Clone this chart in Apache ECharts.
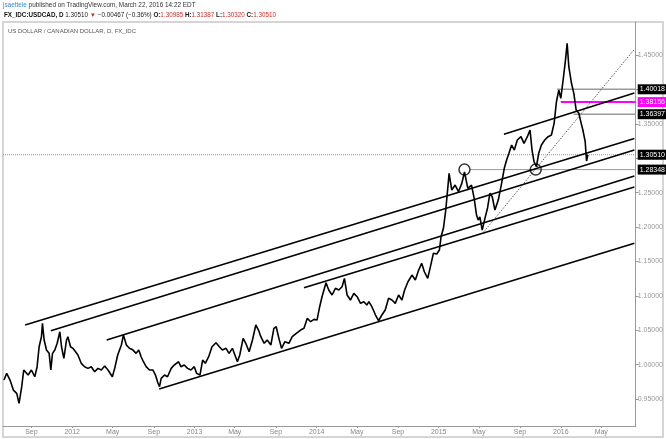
<!DOCTYPE html>
<html>
<head>
<meta charset="utf-8">
<script src="https://cdn.jsdelivr.net/npm/echarts@6/dist/echarts.min.js"></script>
<style>
html,body{margin:0;padding:0;background:#fff;}
#c{width:666px;height:439px;}
</style>
</head>
<body>
<div id="c"></div>
<script>
// ---------- DATA ----------
const priceDates = [
"2011-06-11","2011-06-19","2011-06-29","2011-07-09","2011-07-19","2011-07-26","2011-08-03","2011-08-09","2011-08-22","2011-09-01",
"2011-09-11","2011-09-18","2011-09-24","2011-10-01","2011-10-04","2011-10-09","2011-10-16","2011-10-24","2011-10-29","2011-11-03",
"2011-11-10","2011-11-17","2011-11-25","2011-11-30","2011-12-07","2011-12-15","2011-12-19","2011-12-27","2012-01-03","2012-01-11",
"2012-01-18","2012-01-28","2012-02-07","2012-02-17","2012-02-27","2012-03-08","2012-03-18","2012-03-28","2012-04-07","2012-04-17",
"2012-04-30","2012-05-07","2012-05-16","2012-05-27","2012-06-02","2012-06-11","2012-06-20","2012-06-30","2012-07-10","2012-07-18",
"2012-07-25","2012-08-01","2012-08-09","2012-08-19","2012-08-29","2012-09-06","2012-09-13","2012-09-18","2012-09-23","2012-10-03",
"2012-10-12","2012-10-23","2012-11-01","2012-11-14","2012-11-21","2012-12-01","2012-12-11","2012-12-21","2012-12-31","2013-01-07",
"2013-01-17","2013-01-25","2013-02-02","2013-02-12","2013-02-22","2013-03-06","2013-03-16","2013-03-25","2013-04-05","2013-04-14",
"2013-04-24","2013-05-09","2013-05-16","2013-05-26","2013-06-03","2013-06-13","2013-06-23","2013-07-03","2013-07-11","2013-07-18",
"2013-07-28","2013-08-06","2013-08-17","2013-08-26","2013-09-02","2013-09-10","2013-09-18","2013-09-28","2013-10-10","2013-10-20",
"2013-11-01","2013-11-14","2013-11-24","2013-12-04","2013-12-14","2013-12-24","2014-01-02","2014-01-10","2014-01-17","2014-01-29",
"2014-02-06","2014-02-16","2014-02-26","2014-03-08","2014-03-18","2014-03-25","2014-04-02","2014-04-12","2014-04-22","2014-05-02",
"2014-05-12","2014-05-22","2014-05-31","2014-06-06","2014-06-15","2014-06-26","2014-07-05","2014-07-15","2014-07-25","2014-08-04",
"2014-08-14","2014-08-24","2014-09-03","2014-09-13","2014-09-21","2014-10-01","2014-10-13","2014-10-23","2014-11-02","2014-11-11",
"2014-11-19","2014-11-29","2014-12-06","2014-12-16","2014-12-26","2015-01-03","2015-01-08","2015-01-15","2015-01-22","2015-01-28",
"2015-02-01","2015-02-09","2015-02-19","2015-03-01","2015-03-11","2015-03-19","2015-03-29","2015-04-09","2015-04-17","2015-04-24",
"2015-04-29","2015-05-04","2015-05-11","2015-05-19","2015-05-27","2015-06-03","2015-06-10","2015-06-18","2015-06-28","2015-07-08",
"2015-07-16","2015-07-23","2015-07-30","2015-08-07","2015-08-15","2015-08-24","2015-09-04","2015-09-13","2015-09-23","2015-10-01",
"2015-10-07","2015-10-13","2015-10-20","2015-10-27","2015-11-04","2015-11-14","2015-11-24","2015-12-04","2015-12-12","2015-12-19",
"2015-12-26","2016-01-01","2016-01-08","2016-01-15","2016-01-20","2016-01-25","2016-02-02","2016-02-09","2016-02-16","2016-02-24",
"2016-03-02","2016-03-07","2016-03-14","2016-03-18","2016-03-22"
];
const priceValues = [
0.9776,0.9874,0.9776,0.9630,0.9583,0.9437,0.9679,0.9922,0.9849,0.9922,
0.9824,0.9970,1.0260,1.0406,1.0600,1.0358,1.0212,1.0164,0.9922,1.0164,
1.0212,1.0310,1.0478,1.0260,1.0091,1.0358,1.0405,1.0260,1.0237,1.0188,
1.0140,1.0019,0.9970,0.9946,0.9970,0.9897,0.9946,0.9922,0.9980,0.9922,
0.9824,0.9946,1.0140,1.0285,1.0430,1.0285,1.0237,1.0215,1.0164,1.0212,
1.0115,1.0042,0.9970,0.9922,0.9922,0.9849,0.9737,0.9679,0.9801,0.9849,
0.9824,0.9946,0.9994,1.0042,0.9970,0.9994,0.9946,0.9922,0.9970,0.9873,
0.9849,1.0067,1.0019,1.0115,1.0260,1.0318,1.0260,1.0212,1.0237,1.0164,
1.0237,1.0042,1.0140,1.0382,1.0310,1.0188,1.0358,1.0576,1.0503,1.0406,
1.0310,1.0358,1.0285,1.0528,1.0551,1.0382,1.0237,1.0333,1.0310,1.0406,
1.0455,1.0503,1.0528,1.0673,1.0624,1.0658,1.0648,1.0842,1.0987,1.1190,
1.1084,1.1012,1.1109,1.1084,1.1132,1.1254,1.1012,1.0939,1.1036,1.0987,
1.0891,1.0915,1.0866,1.0915,1.0842,1.0721,1.0638,1.0721,1.0794,1.0964,
1.0939,1.0891,1.1012,1.0939,1.1084,1.1205,1.1302,1.1230,1.1375,1.1472,
1.1350,1.1254,1.1400,1.1618,1.1608,1.1666,1.1859,1.1981,1.2247,1.2562,
1.2780,1.2538,1.2610,1.2513,1.2635,1.2800,1.2562,1.2610,1.2417,1.2174,
1.2102,1.2146,1.1956,1.2122,1.2277,1.2490,1.2440,1.2247,1.2392,1.2635,
1.2853,1.2974,1.3071,1.3192,1.3119,1.3265,1.3313,1.3217,1.3313,1.3410,
1.3119,1.2949,1.2876,1.3071,1.3192,1.3265,1.3313,1.3337,1.3507,1.3821,
1.3991,1.3871,1.4137,1.4427,1.4670,1.4330,1.4089,1.3943,1.3700,1.3653,
1.3507,1.3410,1.3240,1.2960,1.3051
];

// trend lines (parallel channel lines): start/end dates and values
const trendStartDates = ["2011-08-13","2011-10-29","2012-04-13","2013-11-24","2012-09-17","2015-07-15"];
const trendStartValues = [1.05756,1.04927,1.03576,1.11177,0.96453,1.33474];
const trendEndDates   = ["2016-08-08","2016-08-08","2016-08-08","2016-08-08","2016-08-08","2016-08-08"];
const trendEndValues  = [1.32863,1.31192,1.27413,1.25814,1.17631,1.39477];

// dotted diagonal
const diagDates = ["2015-05-16","2016-08-08"];
const diagValues = [1.19317,1.45828];

// horizontal levels
const levelValues = [1.40018,1.38156,1.36397,1.30510,1.28348];
const levelStartDates = ["2015-12-21","2016-01-01","2016-02-08","2011-06-08","2015-04-05"];

// circled points
const circleDates = ["2015-03-19","2015-10-18"];
const circleValues = [1.2835,1.2835];

// axis ticks
const yTicks = [0.95,1.00,1.05,1.10,1.15,1.20,1.25,1.30,1.35,1.40,1.45];
const xTickDates = ["2011-09-01","2012-01-01","2012-05-01","2012-09-01","2013-01-01","2013-05-01","2013-09-01","2014-01-01","2014-05-01","2014-09-01","2015-01-01","2015-05-01","2015-09-01","2016-01-01","2016-05-01"];
const monthNames = ["Jan","Feb","Mar","Apr","May","Jun","Jul","Aug","Sep","Oct","Nov","Dec"];

const xMin = "2011-06-08", xMax = "2016-08-12";

// ---------- CHART ----------
const ts = s => +new Date(s + "T00:00:00Z");
const chart = echarts.init(document.getElementById('c'), null, {renderer:'canvas'});
const fontFam = 'Liberation Sans, Arial, sans-serif';

const series = [];
series.push({
  type:'line', name:'USDCAD', data: priceDates.map((d,i)=>[ts(d), priceValues[i]]),
  showSymbol:false, symbol:'none', lineStyle:{color:'#000', width:1.6}, z:5, silent:true
});
trendStartDates.forEach((d,i)=>{
  series.push({type:'line', data:[[ts(d),trendStartValues[i]],[ts(trendEndDates[i]),trendEndValues[i]]],
    symbol:'none', lineStyle:{color:'#000', width:1.6}, z:6, silent:true});
});
series.push({type:'line', data: diagDates.map((d,i)=>[ts(d),diagValues[i]]), symbol:'none',
  lineStyle:{color:'#555', width:1, type:[1.5,1.5]}, z:4, silent:true});

const levelStyles = [
  {color:'#9a9a9a', width:1.5, type:'solid', bg:'#000'},
  {color:'#ff00ff', width:2, type:'solid', bg:'#ff00ff'},
  {color:'#9a9a9a', width:1.5, type:'solid', bg:'#000'},
  {color:'#9a9a9a', width:1, type:'dotted', bg:'#000'},
  {color:'#9a9a9a', width:1, type:'solid', bg:'#000'}
];
levelValues.forEach((v,i)=>{
  const st = levelStyles[i];
  series.push({type:'line', data:[[ts(levelStartDates[i]),v],[ts(xMax),v]], symbol:'none',
    lineStyle:{color:st.color, width:st.width, type:st.type}, z:3, silent:true,
    endLabel:{show:true, formatter:()=>v.toFixed(5), backgroundColor:st.bg, color:'#fff',
      fontSize:7, fontFamily:fontFam, padding:[2,2,1,2], distance:2}
  });
});
series.push({type:'scatter', data: circleDates.map((d,i)=>[ts(d),circleValues[i]]), symbol:'circle', symbolSize:11,
  itemStyle:{color:'rgba(0,0,0,0)', borderColor:'#000', borderWidth:1.5}, z:7, silent:true});

chart.setOption({
  animation:false,
  backgroundColor:'#fff',
  grid:{left:3, right:28, top:22, bottom:13, containLabel:false},
  xAxis:{
    type:'value', min:ts(xMin), max:ts(xMax),
    axisLine:{show:true, lineStyle:{color:'#999', width:1}},
    axisTick:{show:true, length:2, lineStyle:{color:'#999'}, customValues: xTickDates.map(ts)},
    axisLabel:{color:'#888', fontSize:7, fontFamily:fontFam, margin:3, showMinLabel:true, showMaxLabel:true,
      customValues: xTickDates.map(ts),
      formatter:(val)=>{const d=new Date(val); const m=d.getUTCMonth(); return m===0? String(d.getUTCFullYear()) : monthNames[m];}},
    splitLine:{show:false}
  },
  yAxis:{
    type:'value', position:'right', min:0.9108, max:1.498,
    axisLine:{show:true, lineStyle:{color:'#999', width:1}},
    axisTick:{show:true, length:3, lineStyle:{color:'#999'}, customValues: yTicks},
    axisLabel:{color:'#999', fontSize:7, fontFamily:fontFam, margin:2, customValues: yTicks, formatter:(v)=>v.toFixed(5)},
    splitLine:{show:false}
  },
  series: series,
  graphic:[
    {type:'rect', shape:{x:3, y:22, width:660, height:415}, style:{fill:'none', stroke:'#c8c8c8', lineWidth:1.5}, z:-1, silent:true},
    {type:'text', left:3, top:2, style:{fontSize:6.4, fontFamily:fontFam, fill:'#333',
      text:'{u|jsaettele} published on TradingView.com, March 22, 2016 14:22 EDT',
      rich:{u:{fill:'#3a8ad6', fontSize:6.4, fontFamily:fontFam}}}},
    {type:'text', left:4, top:12, style:{fontSize:6.3, fontFamily:fontFam, fill:'#222',
      text:'{b|FX_IDC:USDCAD, D} 1.30510 {r|▼} −0.00467 (−0.36%) {b|O:}{r|1.30985} {b|H:}{r|1.31387} {b|L:}{r|1.30320} {b|C:}{r|1.30510}',
      rich:{b:{fontWeight:'bold', fill:'#111', fontSize:6.3, fontFamily:fontFam}, r:{fill:'#c8312b', fontSize:6.3, fontFamily:fontFam}}}},
    {type:'text', left:8, top:28, style:{fontSize:6, fontFamily:fontFam, fill:'#555', text:'US DOLLAR / CANADIAN DOLLAR, D, FX_IDC'}}
  ]
});
</script>
</body>
</html>
